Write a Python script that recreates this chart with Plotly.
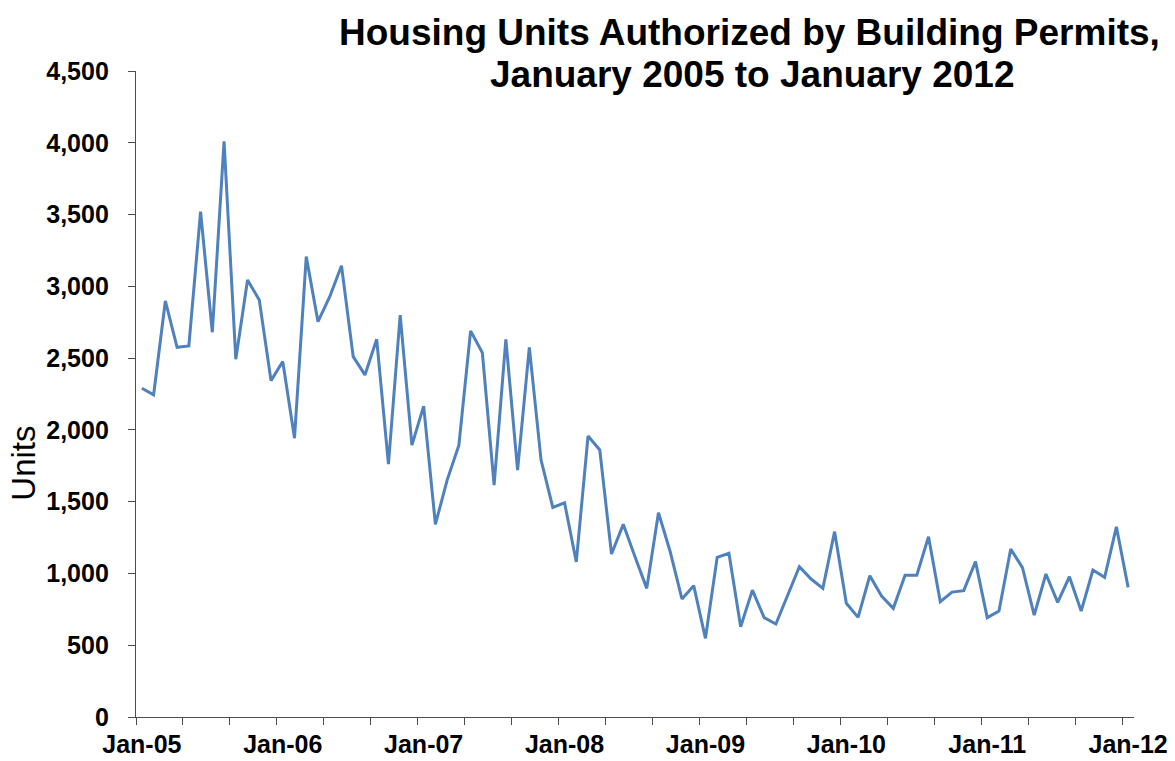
import pandas as pd
import plotly.graph_objects as go

# Monthly housing units authorized, Jan 2005 .. Jan 2012
months = pd.date_range("2005-01-01", "2012-01-01", freq="MS").strftime("%b-%y").tolist()
units = [2290, 2244, 2898, 2575, 2585, 3520, 2680, 4010, 2492, 3044, 2905, 2343,
         2476, 1942, 3207, 2754, 2928, 3144, 2510, 2383, 2631, 1762, 2800, 1894,
         2166, 1342, 1650, 1894, 2690, 2537, 1616, 2630, 1720, 2575, 1790, 1460,
         1492, 1080, 1957, 1860, 1135, 1342, 1116, 896, 1423, 1151, 822, 915,
         548, 1112, 1140, 629, 884, 692, 648, 850, 1047, 961, 896, 1291,
         792, 694, 984, 843, 757, 987, 987, 1256, 803, 870, 880, 1082,
         692, 738, 1170, 1040, 710, 996, 799, 977, 738, 1024, 973, 1325,
         903]
x_labels = ["Jan-05", "Jan-06", "Jan-07", "Jan-08", "Jan-09", "Jan-10", "Jan-11", "Jan-12"]
y_ticks = [0, 500, 1000, 1500, 2000, 2500, 3000, 3500, 4000, 4500]

title_line1 = "Housing Units Authorized by Building Permits,"
title_line2 = "January 2005 to January 2012"
y_title = "Units"

idx = list(range(len(months)))
label_pos = [months.index(l) for l in x_labels]

AX = "#4d4d4d"
FONT = "Liberation Sans, Arial, sans-serif"

fig = go.Figure()
fig.add_trace(go.Scatter(
    x=idx, y=units, mode="lines",
    line=dict(color="#4F81BD", width=3),
    customdata=months, hovertemplate="%{customdata}: %{y:,}<extra></extra>",
))

fig.update_layout(
    width=1175, height=761,
    margin=dict(l=128, r=49, t=63, b=52),
    paper_bgcolor="white", plot_bgcolor="white",
    showlegend=False,
    font=dict(family=FONT, color="black"),
    xaxis=dict(
        range=[-0.5, len(months) - 0.5],
        tickmode="array", tickvals=label_pos, ticktext=x_labels,
        ticks="", showgrid=False, zeroline=False, automargin=False,
        showline=True, linecolor=AX, linewidth=1.4,
        tickfont=dict(size=25, family=FONT, weight="bold"),
        ticklabelstandoff=5,
        minor=dict(tickmode="linear", tick0=-0.5, dtick=4, ticks="outside",
                   ticklen=7, tickcolor=AX, tickwidth=1.4, showgrid=False),
    ),
    yaxis=dict(
        range=[0, 4500],
        tickmode="array", tickvals=y_ticks, tickformat=",",
        ticks="outside", ticklen=7, tickcolor=AX, tickwidth=1.4,
        showgrid=False, zeroline=False, automargin=False,
        showline=True, linecolor=AX, linewidth=1.4,
        tickfont=dict(size=25, family=FONT, weight="bold"),
        ticklabelstandoff=14,
    ),
)

fig.add_annotation(text=y_title, xref="paper", yref="paper",
                   x=-0.1127, y=0.393, xanchor="center", yanchor="middle",
                   textangle=-90, showarrow=False,
                   font=dict(size=33, family=FONT, color="black"))
fig.add_annotation(text=title_line1, xref="paper", yref="paper",
                   x=0.615, y=1.0593, xanchor="center", yanchor="middle",
                   showarrow=False, font=dict(size=37, family=FONT, weight="bold", color="black"))
fig.add_annotation(text=title_line2, xref="paper", yref="paper",
                   x=0.618, y=0.9943, xanchor="center", yanchor="middle",
                   showarrow=False, font=dict(size=37, family=FONT, weight="bold", color="black"))

fig.write_html("out.html")
